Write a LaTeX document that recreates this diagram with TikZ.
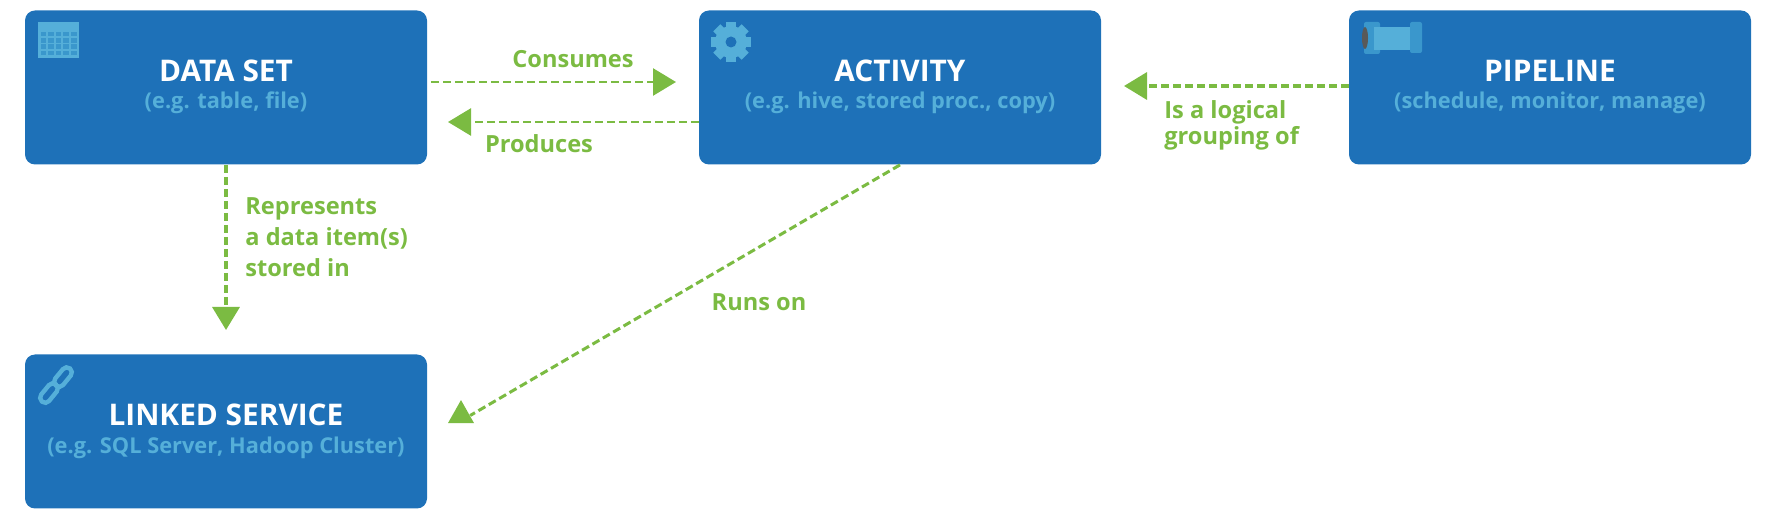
\documentclass[tikz,border=0pt]{standalone}
\usepackage{fontspec}
\setmainfont{Open Sans}
\usetikzlibrary{arrows.meta,shapes.geometric}
\definecolor{boxblue}{HTML}{1E71B8}
\definecolor{iconblue}{HTML}{55AFD9}
\definecolor{midblue}{HTML}{3A97CC}
\definecolor{flowgreen}{HTML}{7BBB42}
\tikzset{
    serviceblock/.style={fill=boxblue, rounded corners=5pt, minimum width=201pt, minimum height=77pt, inner sep=0pt},
    blocktitle/.style={text=white, font=\fontsize{14.9}{18}\selectfont\bfseries, inner sep=0pt},
    blocknote/.style={text=iconblue, font=\fontsize{10.9}{13}\selectfont\bfseries, inner sep=0pt},
    flowtext/.style={text=flowgreen, font=\fontsize{11.8}{15.5}\selectfont\bfseries, inner sep=0pt},
    flow/.style={draw=flowgreen, line width=1.3pt, dash pattern=on 4pt off 2pt, -{Triangle[length=11.5pt,width=13.5pt]}},
    flowplain/.style={draw=flowgreen, line width=1.3pt, dash pattern=on 4pt off 2pt},
    uptip/.style={fill=flowgreen, isosceles triangle, isosceles triangle stretches, shape border rotate=90, minimum width=13pt, minimum height=11.5pt, inner sep=0pt}
}
\begin{document}
\begin{tikzpicture}[x=0.5pt,y=-0.5pt]
    \useasboundingbox (0,0) rectangle (1773,523);

    \node [serviceblock] (dataset) at (226,87.5) {};
    \node [serviceblock] (activity) at (900,87.5) {};
    \node [serviceblock] (pipeline) at (1550,87.5) {};
    \node [serviceblock] (linked) at (226,431.5) {};

    \node [blocktitle] (datasettitle) at (226,71) {DATA SET};
    \node [blocknote] (datasetnote) at (226,103) {(e.g. table, file)};
    \node [blocktitle] (activitytitle) at (900,71) {ACTIVITY};
    \node [blocknote] (activitynote) at (900,103) {(e.g. hive, stored proc., copy)};
    \node [blocktitle] (pipelinetitle) at (1550,71) {PIPELINE};
    \node [blocknote] (pipelinenote) at (1550,103) {(schedule, monitor, manage)};
    \node [blocktitle] (linkedtitle) at (226,415) {LINKED SERVICE};
    \node [blocknote] (linkednote) at (226,448) {(e.g. SQL Server, Hadoop Cluster)};

    \node [flowtext] (consumes) at (573,59) {Consumes};
    \node [flowtext] (produces) at (539,144) {Produces};
    \node [flowtext, anchor=north west, align=left] (represents) at (245,197) {Represents\\a data item(s)\\stored in};
    \node [flowtext] (runson) at (759,302) {Runs on};
    \node [flowtext, anchor=north west, align=left, font=\fontsize{11.8}{13}\selectfont\bfseries] (grouping) at (1164,100) {Is a logical\\grouping of};

    \coordinate (consumesend) at (676,82);
    \coordinate (producesend) at (448,122);
    \coordinate (groupingend) at (1124,86);
    \coordinate (representsend) at (226,330);
    \node [uptip] (runstip) at (461,415.5) {};

    \draw [flow] (dataset.east |- consumesend) ++(4,0) -- (consumesend);
    \draw [flow] (activity.west |- producesend) -- (producesend);
    \draw [flow, line width=1.7pt] (pipeline.west |- groupingend) -- (groupingend);
    \draw [flow, line width=1.7pt] (dataset.south) -- (representsend);
    \draw [flowplain, line width=1.5pt] (activity.south) -- (runstip.east);

    % table
    \fill [iconblue] (38,22) rectangle (79,58);
    \foreach \col in {0,...,4}
        \foreach \row in {0,...,3}
            \fill [midblue] (40.5+7.6*\col,32+6.2*\row) rectangle +(5.6,4.4);

    % gear
    \foreach \ang in {0,45,...,315}
        \fill [iconblue, rotate around={\ang:(731,42)}] (726,22) rectangle (736,30);
    \fill [iconblue] (731,42) circle [radius=16];
    \fill [boxblue] (731,42) circle [radius=5.5];

    % pipe
    \fill [midblue, rounded corners=1pt] (1364,22) rectangle (1380,54);
    \fill [iconblue] (1374,27) rectangle (1412,50);
    \fill [midblue, rounded corners=1pt] (1410,22) rectangle (1422,53);
    \fill [black!65] (1365,38) ellipse [x radius=3, y radius=11];

    % chain
    \draw [iconblue, line width=2.2pt, rounded corners=2.5pt] (59.9,387.7) -- (52.1,381.3) -- (38.1,398.3) -- (45.9,404.9) -- cycle;
    \draw [iconblue, line width=2.2pt, rounded corners=2.5pt] (73.9,371.7) -- (66.1,365.3) -- (52.1,382.3) -- (59.9,388.9) -- cycle;
\end{tikzpicture}
\end{document}
